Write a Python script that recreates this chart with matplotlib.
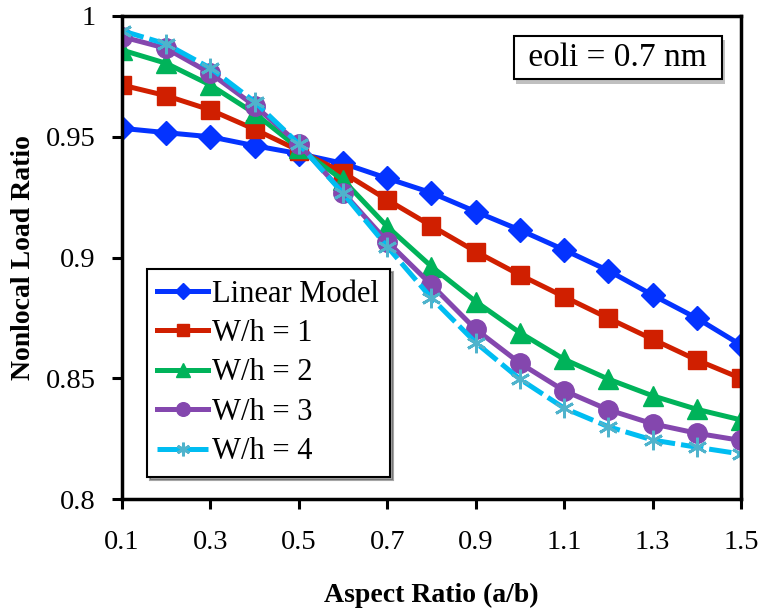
import numpy as np
import matplotlib
matplotlib.use("Agg")
import matplotlib.pyplot as plt
import matplotlib.patheffects as pe

plt.rcParams['font.family'] = ['Liberation Serif', 'DejaVu Serif']

aspect = [0.1, 0.2, 0.3, 0.4, 0.5, 0.6, 0.7, 0.8, 0.9, 1.0, 1.1, 1.2, 1.3, 1.4, 1.5]
linear = [0.9535, 0.9517, 0.950, 0.9463, 0.943, 0.939, 0.9328, 0.9268, 0.919,
          0.9114, 0.9032, 0.8946, 0.8845, 0.8749, 0.8638]
wh1 = [0.9714, 0.967, 0.9611, 0.9531, 0.9443, 0.9352, 0.9239, 0.9131, 0.9025,
       0.8928, 0.8838, 0.8749, 0.8662, 0.8576, 0.850]
wh2 = [0.9859, 0.9804, 0.9714, 0.9597, 0.9452, 0.9321, 0.9128, 0.8963, 0.8818,
       0.8689, 0.8579, 0.8497, 0.8428, 0.8372, 0.8328]
wh3 = [0.9914, 0.9866, 0.9763, 0.9628, 0.947, 0.9269, 0.9066, 0.8887, 0.8703,
       0.8563, 0.8449, 0.837, 0.8312, 0.8273, 0.8243]
wh4 = [0.9939, 0.9884, 0.9784, 0.9645, 0.947, 0.9266, 0.9045, 0.8832, 0.8648,
       0.8497, 0.8377, 0.830, 0.8245, 0.8215, 0.8187]

fig = plt.figure(figsize=(7.6, 6.14), dpi=100)
ax = fig.add_axes([0.1605, 0.187, 0.8145, 0.787])

lw = 3.6
ax.plot(aspect, linear, color='#0433FF', lw=lw, marker='D', ms=12, label='Linear Model')
ax.plot(aspect, wh1, color='#D01F00', lw=lw, marker='s', ms=13, label='W/h = 1')
ax.plot(aspect, wh2, color='#00B35A', lw=lw, marker='^', ms=14, label='W/h = 2')
ax.plot(aspect, wh3, color='#8447AE', lw=lw, marker='o', ms=14, label='W/h = 3')
ax.plot(aspect, wh4, color='#00BDF2', lw=lw, dashes=(4.5, 1.2), marker=(6, 2, 0), ms=14,
        mec='#4FB3CC', mew=2, label='W/h = 4')

ax.set_xlim(0.1, 1.5)
ax.set_ylim(0.8, 1.0)
ax.set_xticks([0.1, 0.3, 0.5, 0.7, 0.9, 1.1, 1.3, 1.5])
ax.set_xticklabels(['0.1', '0.3', '0.5', '0.7', '0.9', '1.1', '1.3', '1.5'])
ax.set_yticks([0.8, 0.85, 0.9, 0.95, 1.0])
ax.set_yticklabels(['0.8', '0.85', '0.9', '0.95', '1'])
ax.tick_params(direction='out', length=7, width=2.2, labelsize=20.5)
ax.tick_params(axis='x', pad=15)
ax.tick_params(axis='y', pad=12)
for s in ax.spines.values():
    s.set_linewidth(2.5)

ax.set_xlabel('Aspect Ratio (a/b)', fontsize=20, fontweight='bold', labelpad=20)
ax.set_ylabel('Nonlocal Load Ratio', fontsize=20, fontweight='bold', labelpad=7)

leg = ax.legend(loc='lower left', bbox_to_anchor=(0.04, 0.046), borderaxespad=0,
                fontsize=22, frameon=True, fancybox=False, shadow=True,
                handlelength=1.65, handletextpad=0.15, labelspacing=0.34,
                borderpad=0.35, markerscale=0.7)
leg.get_frame().set_edgecolor('black')
leg.get_frame().set_linewidth(1.5)

t = ax.text(0.801, 0.914, ' eoli = 0.7 nm ', transform=ax.transAxes, fontsize=24,
            ha='center', va='center',
            bbox=dict(boxstyle='square,pad=0.2', fc='white', ec='black', lw=1.5))
t.get_bbox_patch().set_path_effects([pe.SimplePatchShadow(offset=(2, -3), alpha=0.35),
                                     pe.Normal()])

fig.savefig('out.png', dpi=100)
